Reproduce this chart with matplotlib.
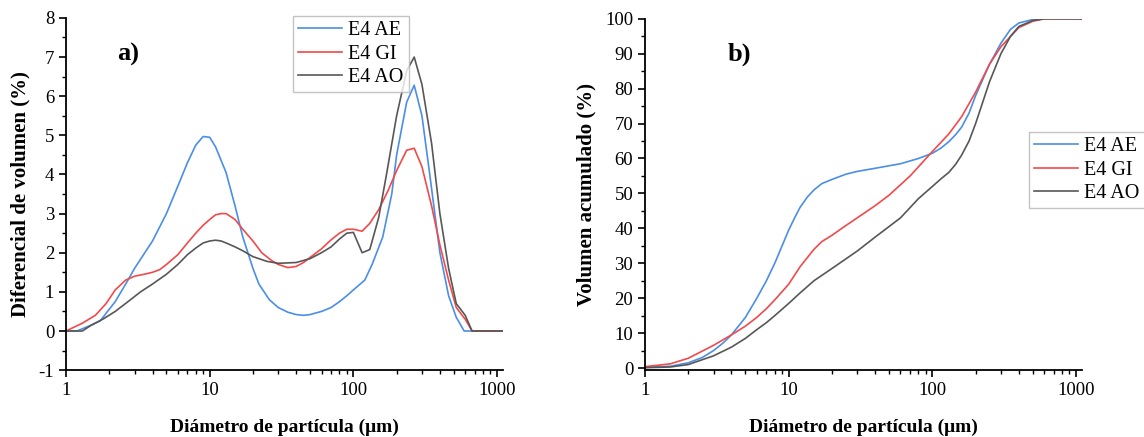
import matplotlib
matplotlib.use("Agg")
import matplotlib.pyplot as plt
from matplotlib.ticker import LogLocator, FixedLocator, MultipleLocator, NullFormatter, FuncFormatter

plt.rcParams['font.family'] = ['Liberation Serif', 'DejaVu Serif']
plt.rcParams['axes.unicode_minus'] = False

labels = ['E4 AE', 'E4 GI', 'E4 AO']
colors = ['#4a8ee6', '#f2494b', '#575757']

# ---- panel a: differential volume ----
x_ae = [1, 1.19, 1.5, 1.73, 2.2, 2.7, 3, 4, 5, 6, 7, 8, 9, 10, 11, 13, 15, 17, 20, 22, 26, 30,
        35, 40, 45, 50, 60, 70, 80, 90, 100, 120, 135, 160, 185, 200, 235, 265, 300, 340,
        400, 460, 520, 590, 1100]
y_ae = [0, 0, 0.15, 0.26, 0.75, 1.3, 1.6, 2.3, 3.0, 3.7, 4.3, 4.75, 4.97, 4.95, 4.7, 4.05,
        3.2, 2.4, 1.6, 1.2, 0.8, 0.6, 0.48, 0.42, 0.4, 0.42, 0.5, 0.6, 0.75, 0.9, 1.05, 1.3,
        1.7, 2.4, 3.5, 4.5, 5.85, 6.28, 5.5, 4.0, 2.0, 0.9, 0.35, 0, 0]

x_gi = [1, 1.3, 1.6, 1.9, 2.2, 2.6, 3, 3.5, 4, 4.5, 5, 6, 7, 8, 9, 10, 11, 12, 13, 15, 17,
        20, 23, 27, 30, 35, 40, 45, 50, 60, 70, 80, 90, 100, 115, 130, 150, 175, 200, 235,
        265, 300, 350, 400, 460, 520, 600, 670, 1100]
y_gi = [0, 0.2, 0.4, 0.7, 1.05, 1.3, 1.4, 1.45, 1.5, 1.57, 1.7, 1.95, 2.25, 2.5, 2.7, 2.85,
        2.97, 3.0, 3.0, 2.85, 2.6, 2.3, 2.0, 1.8, 1.7, 1.62, 1.65, 1.75, 1.88, 2.1, 2.33, 2.5,
        2.6, 2.6, 2.55, 2.75, 3.1, 3.6, 4.1, 4.62, 4.67, 4.2, 3.2, 2.2, 1.3, 0.6, 0.3, 0, 0]

x_ao = [1, 1.3, 1.5, 1.8, 2.2, 2.7, 3.3, 4, 5, 6, 7, 8, 9, 10, 11, 12, 13, 15, 17, 20, 25,
        30, 40, 50, 60, 70, 80, 90, 100, 115, 130, 150, 170, 200, 235, 265, 300, 350, 400,
        460, 520, 600, 670, 1100]
y_ao = [0, 0, 0.15, 0.3, 0.5, 0.75, 1.0, 1.2, 1.45, 1.7, 1.95, 2.12, 2.25, 2.3, 2.32, 2.3,
        2.25, 2.15, 2.05, 1.9, 1.78, 1.73, 1.75, 1.85, 2.0, 2.15, 2.35, 2.5, 2.52, 2.0, 2.08,
        2.9, 4.0, 5.5, 6.65, 7.0, 6.3, 4.8, 3.0, 1.6, 0.7, 0.4, 0, 0]

# ---- panel b: cumulative volume ----
xc_ae = [1, 1.5, 2, 2.5, 3, 3.5, 4, 5, 6, 7, 8, 9, 10, 11, 12, 13.5, 15, 17, 20, 25, 30, 40,
         60, 80, 100, 115, 130, 145, 160, 180, 200, 250, 300, 350, 400, 500, 600, 1100]
yc_ae = [0.2, 0.5, 1.5, 3.0, 5, 7.2, 9.5, 14.5, 20, 25, 30, 35, 39.5, 43, 46, 49, 51, 52.8,
         54, 55.5, 56.3, 57.2, 58.5, 60, 61.5, 63, 64.8, 66.8, 69, 73, 78, 87, 93, 97, 98.8,
         99.8, 100, 100]

xc_gi = [1, 1.5, 2, 3, 4, 5, 6, 7, 8, 10, 12, 15, 17, 20, 25, 30, 40, 50, 70, 100, 130, 160,
         200, 250, 300, 400, 500, 600, 1100]
yc_gi = [0.4, 1.2, 2.8, 6.5, 9.5, 12, 14.5, 17, 19.5, 24, 29, 34, 36.2, 38, 40.8, 43, 46.5,
         49.5, 55, 62, 67, 72, 79, 87, 92, 97.5, 99.3, 100, 100]

xc_ao = [1, 1.5, 2, 3, 4, 5, 6, 7, 8, 10, 12, 15, 20, 30, 40, 60, 80, 100, 115, 130, 145,
         160, 180, 200, 250, 300, 350, 400, 500, 600, 1100]
yc_ao = [0.1, 0.3, 1, 3.5, 6, 8.5, 11, 13, 15, 18.5, 21.5, 25, 28.5, 33.5, 37.5, 43, 48.5,
         52, 54.2, 56, 58.3, 61, 65, 70, 82, 90, 95, 97.8, 99.5, 100, 100]

fig = plt.figure(figsize=(11.44, 4.37), dpi=100)
ax1 = fig.add_axes([0.0577, 0.153, 0.382, 0.806])
ax2 = fig.add_axes([0.5638, 0.153, 0.382, 0.804])


def style_axis(ax):
    ax.set_xscale('log')
    ax.set_xlim(1, 1100)
    ax.spines['top'].set_visible(False)
    ax.spines['right'].set_visible(False)
    ax.spines['left'].set_linewidth(1.3)
    ax.spines['bottom'].set_linewidth(1.3)
    ax.xaxis.set_major_locator(FixedLocator([1, 10, 100, 1000]))
    ax.set_xticklabels(['1', '10', '100', '1000'])
    ax.xaxis.set_minor_locator(LogLocator(base=10, subs=range(2, 10)))
    ax.xaxis.set_minor_formatter(NullFormatter())
    ax.yaxis.set_major_formatter(FuncFormatter(lambda v, p: f'{v:g}'))
    ax.tick_params(which='major', direction='out', length=5, width=1.2, labelsize=13.5)
    ax.tick_params(which='minor', direction='out', length=3, width=1.0)
    ax.set_xlabel('Diámetro de partícula (μm)', fontsize=14, fontweight='bold', labelpad=14)


def add_legend(ax, anchor):
    leg = ax.legend(loc='upper left', bbox_to_anchor=anchor, fontsize=14.5, frameon=True,
                    fancybox=False, edgecolor='#b5b5b5', handlelength=2.2, handletextpad=0.3,
                    borderpad=0.25, labelspacing=0.22, borderaxespad=0)
    leg.get_frame().set_linewidth(1.0)
    return leg


# panel a
for xs, ys, c, lab in zip([x_ae, x_gi, x_ao], [y_ae, y_gi, y_ao], colors, labels):
    ax1.plot(xs, ys, color=c, lw=1.2, label=lab)
style_axis(ax1)
ax1.set_ylim(-1, 8)
ax1.yaxis.set_major_locator(MultipleLocator(1))
ax1.yaxis.set_minor_locator(MultipleLocator(0.5))
ax1.set_ylabel('Diferencial de volumen (%)', fontsize=15, fontweight='bold', labelpad=6)
ax1.text(0.117, 0.88, 'a)', transform=ax1.transAxes, fontsize=19, fontweight='bold')
add_legend(ax1, (0.519, 1.005))

# panel b
for xs, ys, c, lab in zip([xc_ae, xc_gi, xc_ao], [yc_ae, yc_gi, yc_ao], colors, labels):
    ax2.plot(xs, ys, color=c, lw=1.2, label=lab)
style_axis(ax2)
ax2.set_ylim(-0.6, 100)
ax2.yaxis.set_major_locator(MultipleLocator(10))
ax2.yaxis.set_minor_locator(MultipleLocator(5))
ax2.set_ylabel('Volumen acumulado (%)', fontsize=15, fontweight='bold', labelpad=6)
ax2.text(0.19, 0.88, 'b)', transform=ax2.transAxes, fontsize=19, fontweight='bold')
add_legend(ax2, (0.879, 0.678))

fig.savefig('out.png', dpi=100)
